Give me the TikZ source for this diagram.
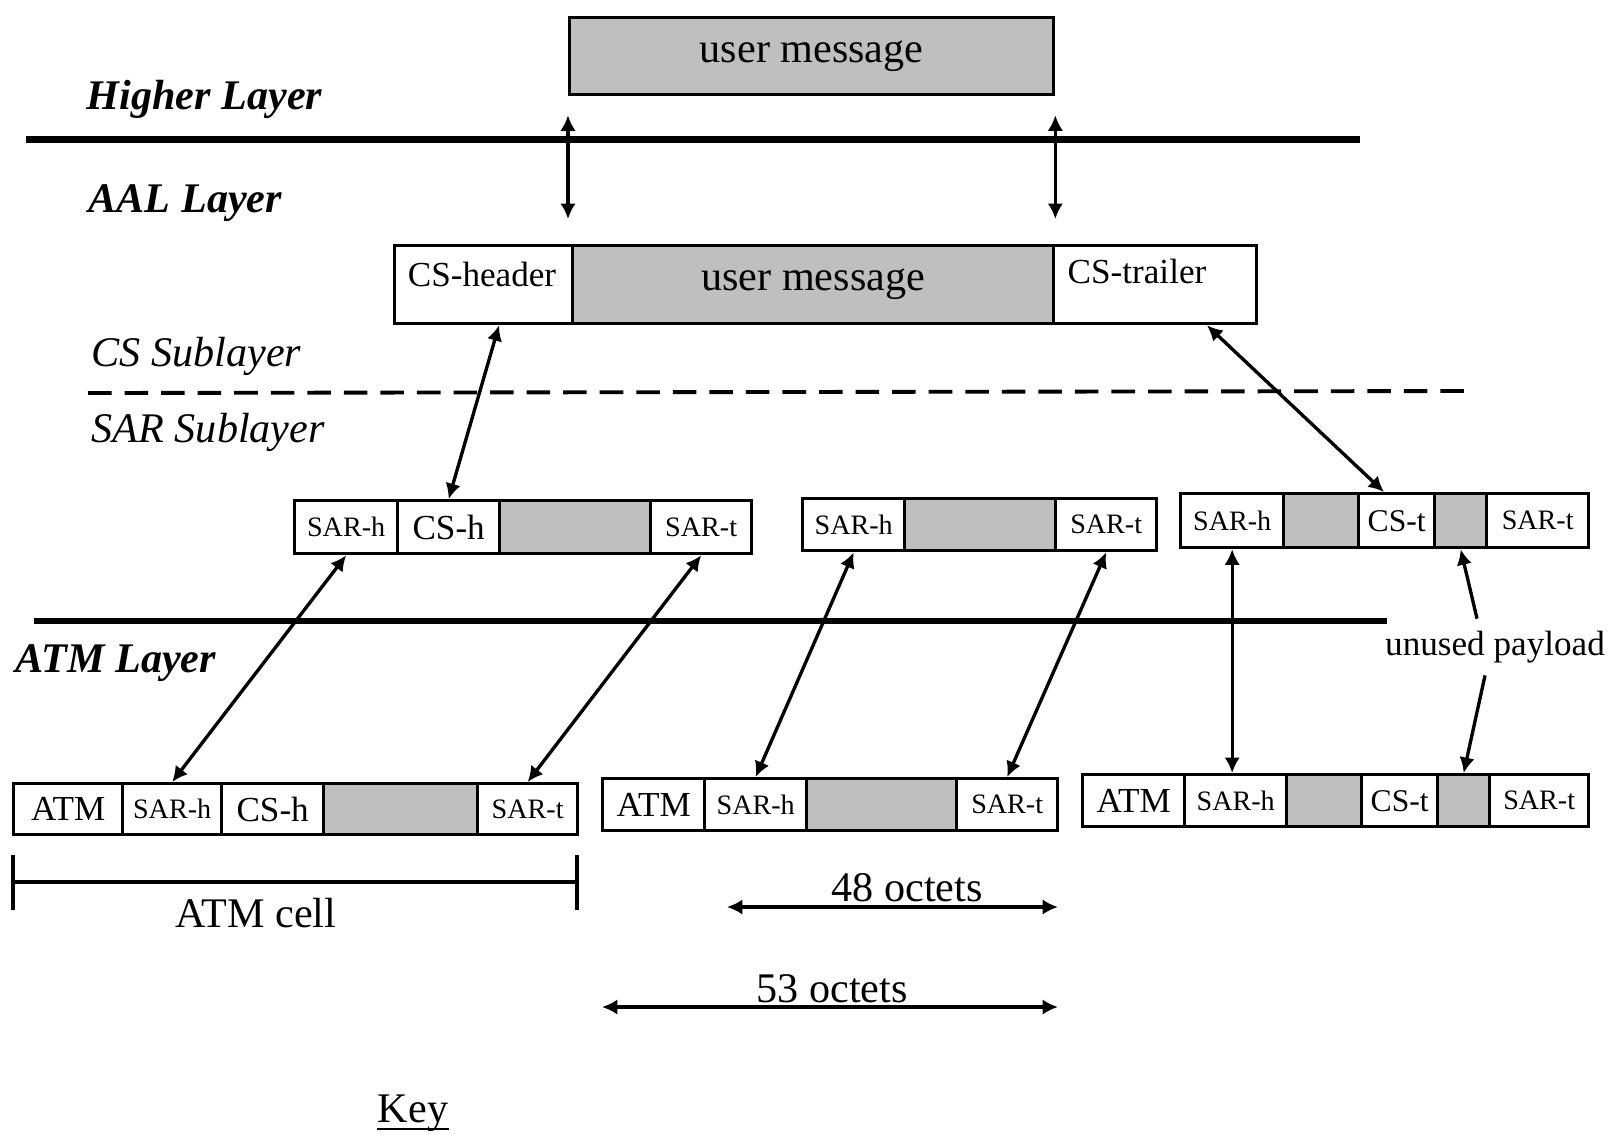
\documentclass[tikz,border=0pt]{standalone}
\usepackage{fontspec}
\setmainfont{Liberation Serif}
\usetikzlibrary{arrows.meta}
\begin{document}
\begin{tikzpicture}[x=1cm,y=1cm,
  cell/.style={draw, line width=0.95pt, inner sep=0pt, anchor=north west},
  shadecell/.style={cell, fill=black!25},
  fa/.style={font=\fontsize{12}{14}\selectfont},
  fb/.style={font=\fontsize{10}{12}\selectfont},
  fc/.style={font=\fontsize{8}{10}\selectfont},
  fd/.style={font=\fontsize{9}{11}\selectfont},
  layerlbl/.style={font=\fontsize{12}{14}\selectfont\bfseries\itshape, anchor=base west, inner sep=0pt},
  sublbl/.style={font=\fontsize{12}{14}\selectfont\itshape, anchor=base west, inner sep=0pt},
  layerline/.style={line width=1.8pt},
  tipa/.tip={Latex[length=4.4pt,width=4.4pt]},
  conn/.style={line width=0.95pt, tipa-tipa},
  conn1/.style={line width=0.95pt, -tipa},
]
\useasboundingbox (0,0) rectangle (16.2,-11.34);

% layer separators
\draw[layerline] (0.26,-1.395) -- (13.60,-1.395);
\draw[line width=1.1pt, dash pattern=on 6.7pt off 3.7pt] (0.88,-3.93) -- (14.72,-3.91);
\draw[layerline] (0.34,-6.21) -- (13.87,-6.21);

% layer labels
\node[layerlbl] (hl) at (0.86,-1.09) {Higher Layer};
\node[layerlbl] (al) at (0.88,-2.12) {AAL Layer};
\node[sublbl] (csl) at (0.91,-3.66) {CS Sublayer};
\node[sublbl] (sarl) at (0.91,-4.42) {SAR Sublayer};
\node[layerlbl] (atml) at (0.15,-6.72) {ATM Layer};

% top user message
\node[shadecell, minimum width=4.84cm, minimum height=0.775cm, fa] (um1) at (5.68,-0.155) {user message};

% CS row
\node[cell, minimum width=1.78cm, minimum height=0.78cm] (csh) at (3.93,-2.44) {};
\node[shadecell, minimum width=4.81cm, minimum height=0.78cm, fa] (csum) at (5.71,-2.44) {user message};
\node[cell, minimum width=2.03cm, minimum height=0.78cm] (cst) at (10.52,-2.44) {};
\node[fb] (csht) at (4.82,-2.74) {CS-header};
\node[fb, anchor=west, inner sep=0pt] (cstt) at (10.67,-2.71) {CS-trailer};

% SAR row 1
\node[cell, minimum width=1.03cm, minimum height=0.53cm, fc] (s1a) at (2.93,-4.99) {SAR-h};
\node[cell, minimum width=1.02cm, minimum height=0.53cm, fb] (s1b) at (3.96,-4.99) {CS-h};
\node[shadecell, minimum width=1.51cm, minimum height=0.53cm] (s1c) at (4.98,-4.99) {};
\node[cell, minimum width=1.01cm, minimum height=0.53cm, fc] (s1d) at (6.49,-4.99) {SAR-t};

% SAR row 2
\node[cell, minimum width=1.02cm, minimum height=0.52cm, fc] (s2a) at (8.01,-4.97) {SAR-h};
\node[shadecell, minimum width=1.51cm, minimum height=0.52cm] (s2b) at (9.03,-4.97) {};
\node[cell, minimum width=1.01cm, minimum height=0.52cm, fc] (s2c) at (10.54,-4.97) {SAR-t};

% SAR row 3
\node[cell, minimum width=1.03cm, minimum height=0.54cm, fc] (s3a) at (11.79,-4.92) {SAR-h};
\node[shadecell, minimum width=0.75cm, minimum height=0.54cm] (s3b) at (12.82,-4.92) {};
\node[cell, minimum width=0.76cm, minimum height=0.54cm, fd] (s3c) at (13.57,-4.92) {CS-t};
\node[shadecell, minimum width=0.52cm, minimum height=0.54cm] (s3d) at (14.33,-4.92) {};
\node[cell, minimum width=1.02cm, minimum height=0.54cm, fc] (s3e) at (14.85,-4.92) {SAR-t};

% ATM row 1
\node[cell, minimum width=1.09cm, minimum height=0.51cm, fb] (a1a) at (0.12,-7.82) {ATM};
\node[cell, minimum width=0.99cm, minimum height=0.51cm, fc] (a1b) at (1.21,-7.82) {SAR-h};
\node[cell, minimum width=1.02cm, minimum height=0.51cm, fb] (a1c) at (2.20,-7.82) {CS-h};
\node[shadecell, minimum width=1.54cm, minimum height=0.51cm] (a1d) at (3.22,-7.82) {};
\node[cell, minimum width=1.00cm, minimum height=0.51cm, fc] (a1e) at (4.76,-7.82) {SAR-t};

% ATM row 2
\node[cell, minimum width=1.02cm, minimum height=0.52cm, fb] (a2a) at (6.01,-7.77) {ATM};
\node[cell, minimum width=1.02cm, minimum height=0.52cm, fc] (a2b) at (7.03,-7.77) {SAR-h};
\node[shadecell, minimum width=1.50cm, minimum height=0.52cm] (a2c) at (8.05,-7.77) {};
\node[cell, minimum width=1.01cm, minimum height=0.52cm, fc] (a2d) at (9.55,-7.77) {SAR-t};

% ATM row 3
\node[cell, minimum width=1.02cm, minimum height=0.52cm, fb] (a3a) at (10.81,-7.73) {ATM};
\node[cell, minimum width=1.02cm, minimum height=0.52cm, fc] (a3b) at (11.83,-7.73) {SAR-h};
\node[shadecell, minimum width=0.75cm, minimum height=0.52cm] (a3c) at (12.85,-7.73) {};
\node[cell, minimum width=0.76cm, minimum height=0.52cm, fd] (a3d) at (13.60,-7.73) {CS-t};
\node[shadecell, minimum width=0.52cm, minimum height=0.52cm] (a3e) at (14.36,-7.73) {};
\node[cell, minimum width=0.99cm, minimum height=0.52cm, fc] (a3f) at (14.88,-7.73) {SAR-t};

% connectors
\draw[conn, shorten <=0.19cm, shorten >=0.25cm] (um1.south west) -- (um1.south west |- csum.north);
\draw[conn, shorten <=0.19cm, shorten >=0.25cm] (um1.south east) -- (um1.south east |- csum.north);
\draw[conn] (4.99,0 |- csh.south) -- (s1b.north);
\draw[conn] (12.07,0 |- cst.south) -- (13.84,0 |- s3c.north);
\draw[conn] (s1a.south) -- (a1b.north);
\draw[conn] (s1d.south) -- (a1e.north);
\draw[conn] (s2a.south) -- (a2b.north);
\draw[conn] (s2c.south) -- (a2d.north);
\draw[conn] (s3a.south) -- (s3a.south |- a3b.north);

\node[fb] (up) at (14.95,-6.47) {unused payload};
\draw[conn1] (14.77,0 |- up.north) -- (s3d.south);
\draw[conn1] (14.85,0 |- up.south) -- (a3e.north);

% ATM cell bracket
\coordinate (bl) at (0.13,-8.82);
\coordinate (br) at (5.77,-8.82);
\draw[line width=1pt] (bl) -- (br);
\draw[line width=1pt] (0.13,-8.55) -- (0.13,-9.10);
\draw[line width=1pt] (5.77,-8.55) -- (5.77,-9.10);
\node[fa] (atmcell) at (2.56,-9.13) {ATM cell};

% octet arrows
\coordinate (o48l) at (7.27,-9.07);
\coordinate (o48r) at (10.58,-9.07);
\draw[conn, line width=1pt] (o48l) -- (o48r);
\node[fa] (t48) at (9.07,-8.88) {48 octets};
\coordinate (o53l) at (6.02,-10.07);
\coordinate (o53r) at (10.58,-10.07);
\draw[conn, line width=1pt] (o53l) -- (o53r);
\node[fa] (t53) at (8.32,-9.89) {53 octets};

% key
\node[fa, anchor=base, inner sep=0pt] (key) at (4.13,-11.22) {Key};
\draw[line width=0.7pt] ([yshift=-0.07cm]key.base west) -- ([yshift=-0.07cm]key.base east);
\end{tikzpicture}
\end{document}
